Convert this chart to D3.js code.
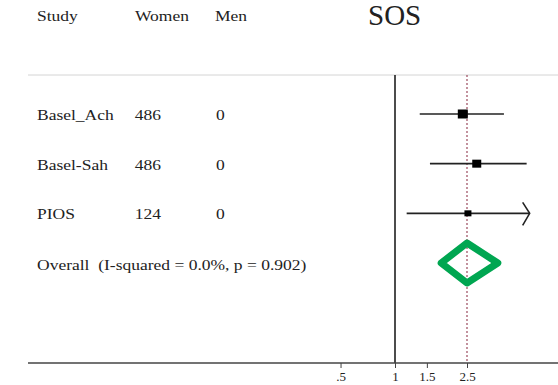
<!DOCTYPE html>
<html>
<head>
<meta charset="utf-8">
<script src="https://cdn.jsdelivr.net/npm/d3@7"></script>
<style>
  body { margin: 0; background: #fff; }
  text { font-family: "Liberation Serif", "DejaVu Serif", serif; fill: #222; white-space: pre; }
</style>
</head>
<body>
<div id="chart"></div>
<script>
// study rows
const studies = ["Basel_Ach", "Basel-Sah", "PIOS"];
const women = [486, 486, 124];
const men = [0, 0, 0];
const est = [2.37, 2.83, 2.53];
const lo = [1.37, 1.56, 1.16];
const hi = [4.00, 5.34, 7.5];
// pooled estimate
const overallLabel = "Overall  (I-squared = 0.0%, p = 0.902)";
const overall = { est: 2.5, lo: 1.80, hi: 3.70 };
// axis
const ticks = [0.5, 1, 1.5, 2.5];
const tickLabels = [".5", "1", "1.5", "2.5"];
const axisMax = 5.55;

const W = 558, H = 385;
const svg = d3.select("#chart").append("svg")
    .attr("width", W)
    .attr("height", H);

// log scale for the effect sizes
const x = d3.scaleLog()
    .domain([1, 2.5])
    .range([395, 467]);

const rows = studies.concat(["Overall"]);
const y = d3.scalePoint()
    .domain(rows)
    .range([114, 263]);

const topY = 75, axisY = 363;

// text is a bit wide in the original, so stretch it sideways
function label(g, px, py, str, size, anchor) {
    return g.append("text")
        .attr("transform", `translate(${px},${py}) scale(1.13,1)`)
        .attr("font-size", size)
        .attr("text-anchor", anchor || "start")
        .text(str);
}

// header
const hdr = svg.append("g");
label(hdr, 37, 21, "Study", 15.5);
label(hdr, 135, 21, "Women", 15.5);
label(hdr, 215, 21, "Men", 15.5);
hdr.append("text").attr("x", 368).attr("y", 25).attr("font-size", 29).text("SOS");

// top rule
svg.append("line")
    .attr("x1", 28).attr("x2", W)
    .attr("y1", topY).attr("y2", topY)
    .attr("stroke", "#d4d4d4").attr("stroke-width", 1);

// null line
svg.append("line")
    .attr("x1", x(1)).attr("x2", x(1))
    .attr("y1", topY).attr("y2", axisY)
    .attr("stroke", "#111").attr("stroke-width", 1.5);

// pooled line
svg.append("line")
    .attr("x1", x(overall.est)).attr("x2", x(overall.est))
    .attr("y1", topY).attr("y2", axisY)
    .attr("stroke", "#9b4a5e").attr("stroke-width", 1.2)
    .attr("stroke-dasharray", "2,2");

// study text
const tx = svg.append("g");
studies.forEach((s, i) => {
    const yy = y(s) + 6;
    label(tx, 37, yy, s, 15.5);
    label(tx, 161, yy, String(women[i]), 15.5, "end");
    label(tx, 216, yy, String(men[i]), 15.5);
});
label(tx, 37, y("Overall") + 7, overallLabel, 15.5);

// confidence intervals
const xMax = x(axisMax);
const sqSize = [10, 9, 7];
studies.forEach((s, i) => {
    const yy = y(s);
    const x2 = Math.min(x(hi[i]), xMax);
    svg.append("line")
        .attr("x1", x(lo[i])).attr("x2", x2)
        .attr("y1", yy).attr("y2", yy)
        .attr("stroke", "#222").attr("stroke-width", 1.6);
    if (hi[i] > axisMax) {
        svg.append("path")
            .attr("d", `M${x2 - 7},${yy - 11}L${x2},${yy}L${x2 - 7},${yy + 12}`)
            .attr("fill", "none").attr("stroke", "#222").attr("stroke-width", 1.6);
    }
    svg.append("rect")
        .attr("x", x(est[i]) - sqSize[i] / 2)
        .attr("y", yy - sqSize[i] / 2 + 0.5)
        .attr("width", sqSize[i])
        .attr("height", sqSize[i] - 1)
        .attr("fill", "#000");
});

// diamond
const oy = y("Overall"), dh = 20;
svg.append("path")
    .attr("d", `M${x(overall.lo)},${oy}L${x(overall.est)},${oy - dh}L${x(overall.hi)},${oy}L${x(overall.est)},${oy + dh}Z`)
    .attr("fill", "none")
    .attr("stroke", "#00a651")
    .attr("stroke-width", 7)
    .attr("stroke-linejoin", "round");

// x axis
svg.append("line")
    .attr("x1", 28).attr("x2", W)
    .attr("y1", axisY).attr("y2", axisY)
    .attr("stroke", "#444").attr("stroke-width", 1.5);
const ax = svg.append("g")
    .attr("transform", `translate(0,${axisY})`)
    .call(d3.axisBottom(x).tickValues(ticks).tickFormat((d, i) => tickLabels[i]).tickSize(5).tickPadding(4));
ax.select(".domain").remove();
ax.selectAll(".tick line").attr("stroke", "#444");
ax.selectAll(".tick text")
    .attr("font-family", "Liberation Serif, serif")
    .attr("font-size", 13)
    .attr("fill", "#222");
</script>
</body>
</html>
